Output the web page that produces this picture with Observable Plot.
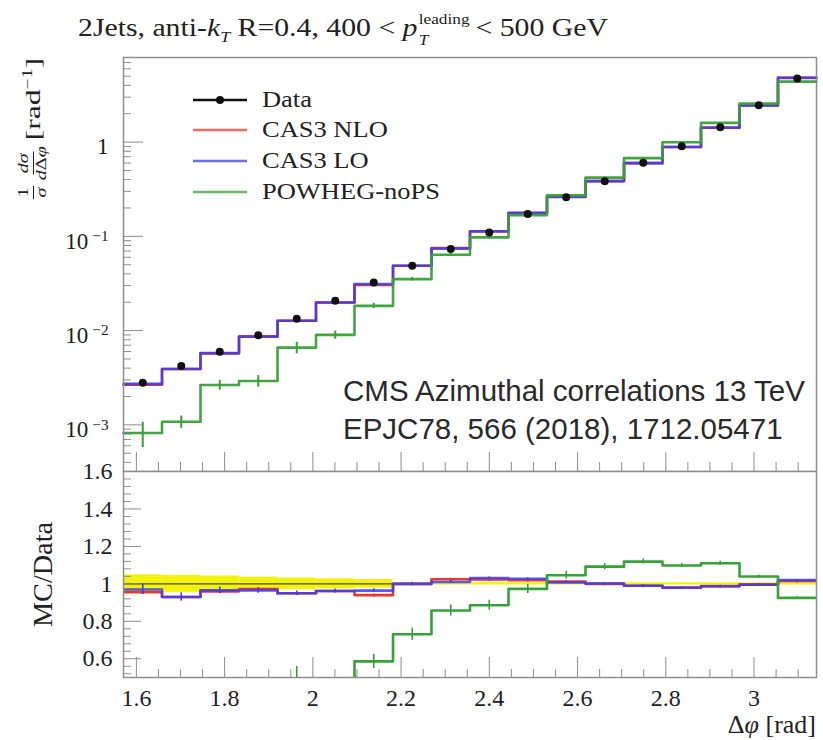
<!DOCTYPE html>
<html><head><meta charset="utf-8">
<script src="https://cdn.jsdelivr.net/npm/d3@7"></script>
<script src="https://cdn.jsdelivr.net/npm/@observablehq/plot@0.6"></script>
<style>
body{margin:0;background:#fff;}
#root{position:relative;width:823px;height:740px;overflow:hidden;font-family:"Liberation Serif",serif;color:#222;}
#root svg{position:absolute;left:0;}
.abs{position:absolute;white-space:nowrap;}
.ss{display:inline-flex;flex-direction:column;font-size:0.58em;line-height:1.45;vertical-align:12px;margin:0 5px 0 1px;}
.frac{display:inline-flex;flex-direction:column;align-items:center;font-size:14px;line-height:1.15;margin-right:4px;}
.frac .num{border-bottom:1px solid #222;padding:0 1px;}
.legrow{position:absolute;left:193px;height:26px;display:flex;align-items:center;font-size:23px;white-space:nowrap;}
.legrow span{margin-left:15px;display:inline-block;transform-origin:0 50%;}
</style></head><body><div id="root"></div>
<script>
// ---- data ----
const binEdges = [1.5708, 1.6581, 1.7453, 1.8326, 1.9199, 2.0071, 2.0944, 2.1817, 2.2689, 2.3562,
                  2.4435, 2.5307, 2.6180, 2.7053, 2.7925, 2.8798, 2.9671, 3.0543, 3.1416];
const dataVals = [0.00280, 0.00421, 0.00598, 0.00893, 0.0134, 0.0207, 0.0324, 0.0488, 0.0734,
                  0.110, 0.173, 0.260, 0.385, 0.604, 0.906, 1.44, 2.46, 4.73];
const dataRelErr = [0.048, 0.045, 0.042, 0.036, 0.031, 0.027, 0.023, 0.006, 0.006,
                    0.006, 0.006, 0.006, 0.006, 0.006, 0.006, 0.006, 0.006, 0.006];
const cas3NLO = [0.00267, 0.00392, 0.00574, 0.00868, 0.0127, 0.0199, 0.0305, 0.0488, 0.0752,
                 0.1126, 0.1765, 0.263, 0.385, 0.598, 0.888, 1.423, 2.45, 4.80];
const cas3LO  = [0.00272, 0.00392, 0.00577, 0.00862, 0.0127, 0.0199, 0.0312, 0.0488, 0.0741,
                 0.1134, 0.1777, 0.2618, 0.3858, 0.598, 0.887, 1.421, 2.45, 4.825];
const powheg  = [0.00082, 0.00108, 0.00265, 0.00292, 0.0066, 0.0090, 0.0183, 0.0352, 0.0638,
                 0.0975, 0.168, 0.272, 0.420, 0.676, 0.995, 1.60, 2.56, 4.38];
const ratioNLO = [0.955, 0.93, 0.96, 0.972, 0.95, 0.962, 0.94, 1.0, 1.025,
                  1.024, 1.02, 1.012, 1.0, 0.99, 0.98, 0.988, 0.996, 1.015];
const ratioLO  = [0.97, 0.93, 0.965, 0.965, 0.95, 0.962, 0.964, 1.0, 1.01,
                  1.031, 1.027, 1.007, 1.002, 0.99, 0.979, 0.987, 0.996, 1.02];
const ratioPOW = [0.29, 0.26, 0.443, 0.327, 0.49, 0.435, 0.586, 0.731, 0.858,
                  0.886, 0.973, 1.046, 1.092, 1.119, 1.098, 1.11, 1.039, 0.925];
const errLO  = [0.027, 0.022, 0.018, 0.015, 0.012, 0.01, 0.01, 0.008, 0.007,
                0.006, 0.005, 0.005, 0.004, 0.004, 0.003, 0.003, 0.003, 0.003];
const errPOW = [0.30, 0.15, 0.12, 0.14, 0.14, 0.10, 0.065, 0.045, 0.035,
                0.03, 0.025, 0.02, 0.015, 0.012, 0.01, 0.01, 0.008, 0.006];
const xTickLabels = [1.6, 1.8, 2, 2.2, 2.4, 2.6, 2.8, 3];
const yTicksUpper = [1, 0.1, 0.01, 0.001];
const yTicksLower = [0.6, 0.8, 1, 1.2, 1.4, 1.6];
const legendLabels = ["Data", "CAS3 NLO", "CAS3 LO", "POWHEG-noPS"];
const cmsLines = ["CMS Azimuthal correlations 13 TeV", "EPJC78, 566 (2018), 1712.05471"];

// ---- styling ----
const RED = "#e8392f", BLUE = "#3c3cf5", GREEN = "#38a038", YELLOW = "#f2f20c";
const FRAME = "#8e8e8e", TICK = "#8e8e8e";
const W = 823, ML = 123, MR = 7;
const innerW = W - ML - MR;
const X0 = binEdges[0], X1 = binEdges[binEdges.length - 1];

const bins = dataVals.map((v, i) => ({
  x1: binEdges[i], x2: binEdges[i + 1], xc: (binEdges[i] + binEdges[i + 1]) / 2,
  data: v, nlo: cas3NLO[i], lo: cas3LO[i], pow: powheg[i],
  rNLO: ratioNLO[i], rLO: ratioLO[i], rPOW: ratioPOW[i],
  eD: dataRelErr[i], eLO: errLO[i], ePOW: errPOW[i]
}));
const steps = key => bins.flatMap(b => [{x: b.x1, y: b[key]}, {x: b.x2, y: b[key]}]);

const xMinor = d3.range(1.6, 3.101, 0.05).filter(v => !xTickLabels.some(t => Math.abs(t - v) < 1e-6));
const yMinorUpper = [];
for (const dec of [1e-4, 1e-3, 1e-2, 1e-1, 1]) for (let k = 2; k <= 9; k++) yMinorUpper.push(k * dec);
const yMinorLower = d3.range(0.52, 1.6, 0.04).filter(v => !yTicksLower.some(t => Math.abs(t - v) < 1e-6));

const root = document.getElementById("root");
const serif = '"Liberation Serif", serif';

// ---- upper panel ----
const UT = 57, UH = 472, UB = 1;
const innerHU = UH - UT - UB;
const upper = Plot.plot({
  width: W, height: UH, marginLeft: ML, marginRight: MR, marginTop: UT, marginBottom: UB,
  style: {fontFamily: serif, fontSize: "23px", color: "#222", background: "transparent"},
  x: {domain: [X0, X1], axis: null},
  y: {type: "log", domain: [3.2e-4, 7.9], axis: null},
  marks: [
    Plot.tickY(yMinorUpper.filter(v => v > 3.2e-4 && v < 7.9), {y: d => d, insetRight: innerW - 8, stroke: TICK}),
    Plot.tickY(yTicksUpper, {y: d => d, insetRight: innerW - 20, stroke: TICK}),
    Plot.tickX(xMinor, {x: d => d, insetTop: innerHU - 9, stroke: TICK}),
    Plot.tickX(xTickLabels, {x: d => d, insetTop: innerHU - 19, stroke: TICK}),
    Plot.line(steps("nlo"), {x: "x", y: "y", stroke: RED, strokeWidth: 2.6}),
    Plot.line(steps("lo"), {x: "x", y: "y", stroke: BLUE, strokeWidth: 2.6, strokeOpacity: 0.85}),
    Plot.line(steps("pow"), {x: "x", y: "y", stroke: GREEN, strokeWidth: 2.6, strokeOpacity: 0.95}),
    Plot.ruleX(bins, {x: "xc", y1: b => b.pow * (1 - b.ePOW), y2: b => b.pow * (1 + b.ePOW), stroke: GREEN, strokeWidth: 2}),
    Plot.dot(bins, {x: "xc", y: "data", r: 4, fill: "#111"}),
    Plot.frame({stroke: FRAME, strokeWidth: 1.5}),
    Plot.axisY(yTicksUpper, {tickSize: 0, tickPadding: 15, dy: 5,
      tickFormat: d => d === 1 ? "1" : "10^" + Math.round(Math.log10(d))})
  ]
});
upper.style.top = "0px";
root.appendChild(upper);
const svgns = "http://www.w3.org/2000/svg";
upper.querySelectorAll('g[aria-label="y-axis tick label"] text').forEach(t => {
  const s = t.textContent;
  if (s.startsWith("10^")) {
    t.textContent = "10";
    const ts = document.createElementNS(svgns, "tspan");
    ts.setAttribute("dy", "-0.5em");
    ts.setAttribute("dx", "4");
    ts.setAttribute("style", "font-size:66%");
    ts.textContent = s.slice(3).replace("-", "\u2212");
    t.appendChild(ts);
  }
});

// ---- lower panel ----
const LTOP = 450, LT = 21, LH = 290, LB = 63;
const innerHL = LH - LT - LB;
const lower = Plot.plot({
  width: W, height: LH, marginLeft: ML, marginRight: MR, marginTop: LT, marginBottom: LB,
  style: {fontFamily: serif, fontSize: "24px", color: "#222", background: "transparent"},
  x: {domain: [X0, X1], axis: null},
  y: {domain: [0.5, 1.6], axis: null},
  marks: [
    Plot.rect(bins, {x1: "x1", x2: "x2", y1: b => 1 - b.eD, y2: b => 1 + b.eD, fill: YELLOW}),
    Plot.ruleY([1], {x1: binEdges[0], x2: binEdges[7], stroke: "#4a4a2a", strokeWidth: 1.2}),
    Plot.tickY(yMinorLower, {y: d => d, insetRight: innerW - 8, stroke: TICK}),
    Plot.tickY(yTicksLower, {y: d => d, insetRight: innerW - 18, stroke: TICK}),
    Plot.tickX(xMinor, {x: d => d, insetTop: innerHL - 8, stroke: TICK}),
    Plot.tickX(xTickLabels, {x: d => d, insetTop: innerHL - 20, stroke: TICK}),
    Plot.line(steps("rNLO"), {x: "x", y: "y", stroke: RED, strokeWidth: 2.6, clip: true}),
    Plot.dot(bins, {x: "xc", y: "rNLO", r: 1.6, fill: RED, clip: true}),
    Plot.line(steps("rLO"), {x: "x", y: "y", stroke: BLUE, strokeWidth: 2.6, strokeOpacity: 0.85, clip: true}),
    Plot.ruleX(bins, {x: "xc", y1: b => b.rLO - b.eLO, y2: b => b.rLO + b.eLO, stroke: BLUE, strokeWidth: 1.6, clip: true}),
    Plot.line(steps("rPOW"), {x: "x", y: "y", stroke: GREEN, strokeWidth: 2.6, clip: true}),
    Plot.ruleX(bins, {x: "xc", y1: b => b.rPOW * (1 - b.ePOW), y2: b => b.rPOW * (1 + b.ePOW), stroke: GREEN, strokeWidth: 1.6, clip: true}),
    Plot.frame({stroke: FRAME, strokeWidth: 1.5}),
    Plot.axisY(yTicksLower, {tickSize: 0, tickPadding: 11, tickFormat: d => String(d)}),
    Plot.axisX(xTickLabels, {tickSize: 0, tickPadding: 11, tickFormat: d => String(d)})
  ]
});
lower.style.top = LTOP + "px";
root.appendChild(lower);

// ---- texts ----
function addDiv(html, css, cls) {
  const d = document.createElement("div");
  d.className = cls || "abs";
  d.innerHTML = html;
  d.setAttribute("style", css);
  root.appendChild(d);
  return d;
}
function fitX(el, target, extra) {
  const w = el.getBoundingClientRect().width;
  el.style.transformOrigin = "0 0";
  el.style.transform = (extra || "") + ` scaleX(${target / w})`;
}
const title = addDiv('2Jets, anti-<i>k</i><sub style="font-size:0.6em"><i>T</i></sub> R=0.4, 400 &lt; <i>p</i><span class="ss"><span>leading</span><span><i>T</i></span></span>&lt; 500 GeV',
  "left:78px;top:9px;font-size:25px;");
fitX(title, 530);

const ylab = addDiv('<span class="frac"><span class="num">1</span><span class="den"><i>σ</i></span></span>' +
  '<span class="frac"><span class="num"><i>dσ</i></span><span class="den"><i>d</i>Δ<i>φ</i></span></span>' +
  '<span>[rad<sup style="font-size:0.62em">−1</sup>]</span>',
  "left:15px;top:199px;height:36px;display:flex;align-items:center;font-size:22px;");
{
  const w = ylab.getBoundingClientRect().width;
  ylab.style.transformOrigin = "0 0";
  ylab.style.transform = `rotate(-90deg) scaleX(${141 / w})`;
}
const mc = addDiv('MC/Data', "left:27px;top:627px;height:32px;line-height:32px;font-size:27px;");
{
  const w = mc.getBoundingClientRect().width;
  mc.style.transformOrigin = "0 0";
  mc.style.transform = `rotate(-90deg) scaleX(${105 / w})`;
}
addDiv('Δ<i>φ</i> [rad]', "right:7px;top:710px;font-size:26px;");
addDiv(cmsLines.join("<br>"),
  "left:343px;top:372px;font-family:'Liberation Sans',Arial,sans-serif;font-size:29.5px;line-height:38px;color:#2a2a2a;");

const legColors = ["#111", RED, BLUE, GREEN];
const legY = [100, 130, 161, 192];
const legSpans = [];
legendLabels.forEach((lab, i) => {
  const dot = i === 0 ? '<circle cx="27" cy="6" r="4" fill="#111"/>' : "";
  const row = addDiv(`<svg width="54" height="12" style="position:static"><line x1="0" x2="54" y1="6" y2="6" stroke="${legColors[i]}" stroke-width="2.6" stroke-opacity="${i === 0 ? 1 : 0.75}"/>${dot}</svg><span>${lab}</span>`,
    `top:${legY[i] - 13}px;`, "legrow");
  legSpans.push(row.querySelector("span"));
});
{
  const s = 178 / legSpans[3].getBoundingClientRect().width;
  legSpans.forEach(sp => sp.style.transform = `scaleX(${s})`);
}
</script></body></html>
